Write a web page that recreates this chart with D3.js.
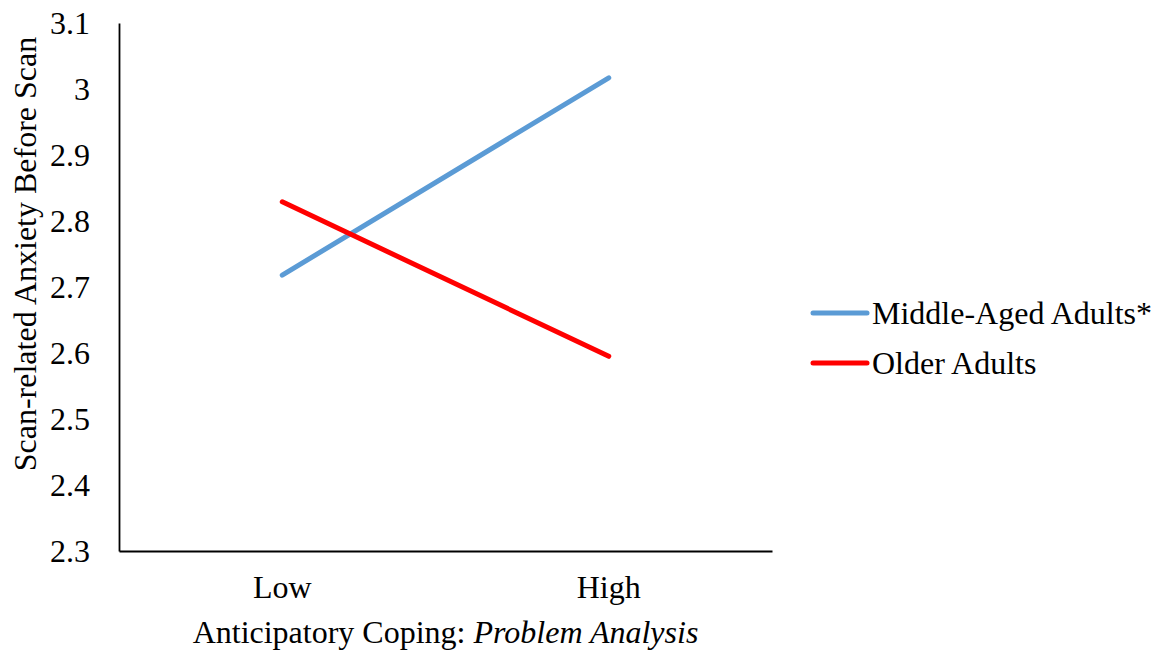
<!DOCTYPE html>
<html>
<head>
<meta charset="utf-8">
<script src="https://cdn.jsdelivr.net/npm/d3@7"></script>
<style>
  body { margin: 0; background: #fff; }
  text { font-family: "Liberation Serif", "Times New Roman", serif; fill: #000; }
</style>
</head>
<body>
<svg id="chart"></svg>
<script>
var categories = ["Low", "High"];
var seriesNames = ["Middle-Aged Adults*", "Older Adults"];
var middleAged = [2.718, 3.017];
var olderAdults = [2.829, 2.595];
var yTicks = [2.3, 2.4, 2.5, 2.6, 2.7, 2.8, 2.9, 3, 3.1];
var colors = ["#5B9BD5", "#FF0000"];

var WIDTH = 1159,
	HEIGHT = 654,
	MARGIN = {top: 23, left: 119},
	PLOT_W = 653,
	PLOT_H = 528,
	FONT = 32;

var svg = d3.select("#chart")
	.attr("width", WIDTH)
	.attr("height", HEIGHT);

var x = d3.scaleBand()
	.domain(categories)
	.range([MARGIN.left, MARGIN.left + PLOT_W]);

var y = d3.scaleLinear()
	.domain([2.3, 3.1])
	.range([MARGIN.top + PLOT_H, MARGIN.top]);

// Axes: plain lines, no tick marks
var yAxis = svg.append("g")
	.attr("transform", "translate(" + MARGIN.left + ",0)")
	.call(d3.axisLeft(y).tickValues(yTicks).tickSize(0).tickPadding(29)
		.tickFormat(function(d) { return d3.format("")(+d.toFixed(1)); }));
yAxis.select(".domain").attr("stroke", "#000").attr("stroke-width", 1.8);
yAxis.selectAll("text")
	.style("font-size", FONT + "px")
	.style("font-family", "'Liberation Serif', serif");

var xAxis = svg.append("g")
	.attr("transform", "translate(0," + (MARGIN.top + PLOT_H) + ")")
	.call(d3.axisBottom(x).tickSize(0).tickPadding(24));
xAxis.select(".domain").attr("stroke", "#000").attr("stroke-width", 1.8);
xAxis.selectAll("text")
	.style("font-size", FONT + "px")
	.style("font-family", "'Liberation Serif', serif");

// Axis titles
var xTitle = svg.append("text")
	.attr("x", MARGIN.left + PLOT_W / 2)
	.attr("y", 643)
	.attr("text-anchor", "middle")
	.style("font-size", FONT + "px");
xTitle.append("tspan").text("Anticipatory Coping: ");
xTitle.append("tspan").style("font-style", "italic").text("Problem Analysis");

svg.append("text")
	.attr("transform", "translate(36,254) rotate(-90)")
	.attr("text-anchor", "middle")
	.style("font-size", FONT + "px")
	.text("Scan-related Anxiety Before Scan");

// Lines
var series = [middleAged, olderAdults];
var line = d3.line()
	.x(function(d, i) { return x(categories[i]) + x.bandwidth() / 2; })
	.y(function(d) { return y(d); });

svg.selectAll("path.series")
	.data(series)
  .enter().append("path")
	.attr("class", "series")
	.attr("d", line)
	.attr("fill", "none")
	.attr("stroke", function(d, i) { return colors[i]; })
	.attr("stroke-width", 5)
	.attr("stroke-linecap", "round");

// Legend
var legend = svg.selectAll("g.legend")
	.data(seriesNames)
  .enter().append("g")
	.attr("class", "legend")
	.attr("transform", function(d, i) { return "translate(813," + (313 + i * 50) + ")"; });

legend.append("line")
	.attr("x1", 0)
	.attr("x2", 54)
	.attr("stroke", function(d, i) { return colors[i]; })
	.attr("stroke-width", 5)
	.attr("stroke-linecap", "round");

legend.append("text")
	.attr("x", 59)
	.attr("dy", "0.35em")
	.style("font-size", FONT + "px")
	.text(function(d) { return d; });
</script>
</body>
</html>
